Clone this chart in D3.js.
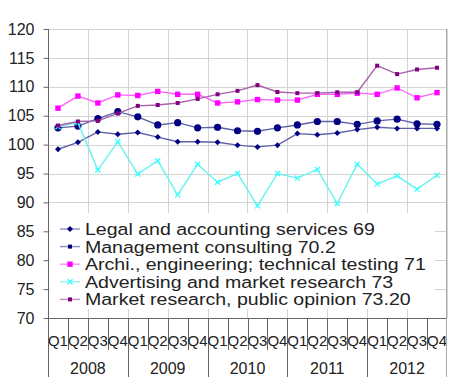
<!DOCTYPE html>
<html>
<head>
<meta charset="utf-8">
<script src="https://cdn.jsdelivr.net/npm/d3@7"></script>
<style>
  body { margin: 0; background: #fff; }
  text { font-family: "Liberation Sans", Arial, sans-serif; fill: #222; }
</style>
</head>
<body>
<div id="chart"></div>
<script>
var width = 450;
var height = 389;
var margin = {top: 29, left: 48, right: 3, bottom: 71};

var years = ["2008", "2009", "2010", "2011", "2012"];
var quarters = ["Q1", "Q2", "Q3", "Q4"];
var yTicks = [70, 75, 80, 85, 90, 95, 100, 105, 110, 115, 120];

var seriesNames = [
  "Legal and accounting services 69",
  "Management consulting 70.2",
  "Archi., engineering; technical testing 71",
  "Advertising and market research 73",
  "Market research, public opinion 73.20"
];

var legalVals = [99.2, 100.4, 102.2, 101.8, 102.1, 101.3, 100.5, 100.5, 100.4, 99.9, 99.6, 99.9, 101.9, 101.7, 102.0, 102.6, 103.0, 102.8, 102.8, 102.8];
var mgmtVals = [102.9, 103.2, 104.5, 105.7, 104.8, 103.4, 103.8, 102.9, 103.0, 102.4, 102.3, 102.9, 103.4, 104.0, 104.0, 103.5, 104.1, 104.4, 103.6, 103.5];
var archiVals = [106.3, 108.4, 107.2, 108.6, 108.5, 109.2, 108.7, 108.7, 107.2, 107.4, 107.8, 107.7, 107.7, 108.7, 108.7, 108.9, 108.7, 109.8, 108.1, 109.0];
var advVals = [103.1, 103.8, 95.6, 100.5, 94.9, 97.2, 91.3, 96.6, 93.5, 95.0, 89.4, 95.0, 94.2, 95.7, 89.8, 96.6, 93.2, 94.6, 92.3, 94.7];
var marketVals = [103.3, 104.0, 104.1, 105.4, 106.7, 106.85, 107.2, 107.9, 108.7, 109.3, 110.3, 109.1, 108.9, 108.9, 109.05, 109.05, 113.65, 112.2, 113.0, 113.3];

var lineColors = ["#6060aa", "#6060aa", "#ff66ff", "#66f2f2", "#aa60aa"];
var markColors = ["#000080", "#000080", "#ff00ff", "#33ffff", "#800080"];
var markShapes = ["diamond", "circle", "square", "cross", "smallsquare"];

var allVals = [legalVals, mgmtVals, archiVals, advVals, marketVals];

var periods = [];
years.forEach(function(y) {
  quarters.forEach(function(q) { periods.push(y + q); });
});

var svg = d3.select("#chart")
  .append("svg")
  .attr("width", width)
  .attr("height", height);

var x = d3.scaleBand()
  .domain(periods)
  .range([margin.left, width - margin.right]);

var y = d3.scaleLinear()
  .domain([70, 120])
  .range([height - margin.bottom, margin.top]);

var xYear = d3.scaleBand()
  .domain(years)
  .range([margin.left, width - margin.right]);

// grid
var grid = svg.append("g").attr("stroke", "#d4d4d4").attr("stroke-width", 1);
yTicks.forEach(function(t) {
  grid.append("line")
    .attr("x1", margin.left).attr("x2", width - margin.right)
    .attr("y1", Math.round(y(t)) + 0.5).attr("y2", Math.round(y(t)) + 0.5);
});
periods.forEach(function(p, i) {
  if (i % 2 === 1) {
    var gx = Math.round(x(p) + x.bandwidth()) + 0.5;
    grid.append("line")
      .attr("x1", gx).attr("x2", gx)
      .attr("y1", y(120)).attr("y2", y(70));
  }
});

// series
var line = d3.line()
  .x(function(d, i) { return x(periods[i]) + x.bandwidth() / 2; })
  .y(function(d) { return y(d); });

function drawMarker(g, shape, color, cx, cy) {
  if (shape === "circle") {
    g.append("circle").attr("cx", cx).attr("cy", cy).attr("r", 3.6).attr("fill", color);
  } else if (shape === "square") {
    g.append("rect").attr("x", cx - 2.7).attr("y", cy - 2.7).attr("width", 5.4).attr("height", 5.4).attr("fill", color);
  } else if (shape === "smallsquare") {
    g.append("rect").attr("x", cx - 2).attr("y", cy - 2).attr("width", 4).attr("height", 4).attr("fill", color);
  } else if (shape === "diamond") {
    g.append("path")
      .attr("d", "M" + cx + "," + (cy - 3) + "L" + (cx + 3) + "," + cy + "L" + cx + "," + (cy + 3) + "L" + (cx - 3) + "," + cy + "Z")
      .attr("fill", color);
  } else {
    g.append("path")
      .attr("d", "M" + (cx - 2.5) + "," + (cy - 2.5) + "L" + (cx + 2.5) + "," + (cy + 2.5) + "M" + (cx + 2.5) + "," + (cy - 2.5) + "L" + (cx - 2.5) + "," + (cy + 2.5))
      .attr("stroke", color).attr("stroke-width", 1.3);
  }
}

allVals.forEach(function(vals, s) {
  var g = svg.append("g");
  g.append("path")
    .datum(vals)
    .attr("d", line)
    .attr("fill", "none")
    .attr("stroke", lineColors[s])
    .attr("stroke-width", 1.4);
  vals.forEach(function(v, i) {
    drawMarker(g, markShapes[s], markColors[s], x(periods[i]) + x.bandwidth() / 2, y(v));
  });
});

// legend
var legend = svg.append("g");
legend.append("rect")
  .attr("x", 50).attr("y", 213)
  .attr("width", 385).attr("height", 96)
  .attr("fill", "#ffffff");
seriesNames.forEach(function(name, i) {
  var ly = 229 + i * 17.6;
  legend.append("line")
    .attr("x1", 60).attr("x2", 80)
    .attr("y1", ly).attr("y2", ly)
    .attr("stroke", lineColors[i]).attr("stroke-width", 1.4)
    .attr("opacity", 0.7);
  drawMarker(legend, markShapes[i] === "circle" ? "smallsquare" : markShapes[i], markColors[i], 70, ly);
  legend.append("text")
    .attr("transform", "translate(85," + (ly + 6) + ") scale(1.15,1)")
    .attr("font-size", "17px")
    .attr("fill", "#000")
    .text(name);
});

// y axis
var yAxis = svg.append("g")
  .attr("transform", "translate(" + (margin.left + 0.5) + ",0)")
  .call(d3.axisLeft(y).tickValues(yTicks).tickSize(5).tickPadding(9));
yAxis.select(".domain").attr("stroke", "#666").attr("d", "M0," + y(120) + "V" + y(70));
yAxis.selectAll(".tick line").attr("stroke", "#666");
yAxis.selectAll(".tick text")
  .attr("font-size", "16px")
  .attr("font-family", "Liberation Sans, Arial, sans-serif")
  .attr("fill", "#222");

// x axis
var xAxis = svg.append("g");
var baseY = Math.round(y(70)) + 0.5;
xAxis.append("line")
  .attr("x1", margin.left).attr("x2", width - margin.right)
  .attr("y1", baseY).attr("y2", baseY)
  .attr("stroke", "#666");
periods.forEach(function(p, i) {
  var bx = Math.round(x(p)) + 0.5;
  var isYear = i % 4 === 0;
  xAxis.append("line")
    .attr("x1", bx).attr("x2", bx)
    .attr("y1", baseY).attr("y2", isYear ? 377 : 350)
    .attr("stroke", "#666");
  xAxis.append("text")
    .attr("x", x(p) + x.bandwidth() / 2)
    .attr("y", 346)
    .attr("text-anchor", "middle")
    .attr("font-size", "15px")
    .text(quarters[i % 4]);
});
var ex = Math.round(width - margin.right) - 0.5;
xAxis.append("line")
  .attr("x1", ex).attr("x2", ex)
  .attr("y1", y(120)).attr("y2", 377)
  .attr("stroke", "#aaa");
years.forEach(function(yr) {
  xAxis.append("text")
    .attr("x", xYear(yr) + xYear.bandwidth() / 2)
    .attr("y", 374)
    .attr("text-anchor", "middle")
    .attr("font-size", "16px")
    .text(yr);
});
</script>
</body>
</html>
